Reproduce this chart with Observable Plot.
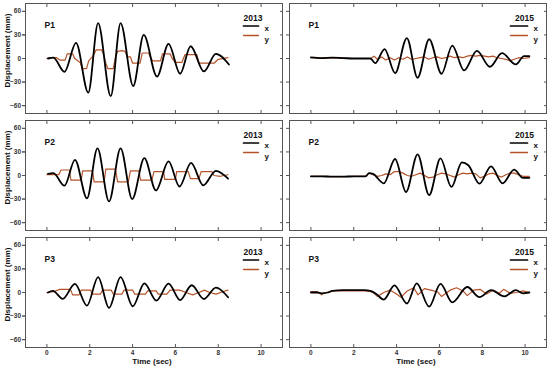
<!DOCTYPE html>
<html><head><meta charset="utf-8">
<script src="https://cdn.jsdelivr.net/npm/d3@7"></script>
<script src="https://cdn.jsdelivr.net/npm/@observablehq/plot@0.6"></script>
<style>
body{margin:0;background:#fff;}
#chart{width:550px;height:372px;}
#chart svg{overflow:visible;}
</style>
</head><body><div id="chart"></div>
<script>
const panels = ["P1", "P2", "P3"];
const years = ["2013", "2015"];
const seriesNames = ["x", "y"];
const yTicks = [-60, -30, 0, 30, 60];
const xTicks = [0, 2, 4, 6, 8, 10];

// P1 2013
const p1_2013_xt = [0.05, 0.3, 0.82, 1.36, 1.93, 2.39, 2.98, 3.44, 4.03, 4.52, 5.14, 5.68, 6.22, 6.71, 7.33, 7.89, 8.5];
const p1_2013_xv = [0, 1, -17, 20, -43.5, 45, -48, 45, -35, 30, -23, 18.6, -19.4, 15.6, -16.5, 6, -7.6];
const p1_2013_yt = [0, 0.2, 0.45, 0.6, 0.85, 0.95, 1.2, 1.3, 1.55, 1.65, 1.85, 1.95, 2.15, 2.3, 2.55, 2.65, 2.75, 2.85, 3.1, 3.2, 3.3, 3.5, 3.65, 3.75, 3.9, 4.0, 4.35, 4.45, 4.75, 4.85, 4.95, 5.3, 5.4, 5.75, 5.85, 6.0, 6.3, 6.45, 7.0, 7.1, 7.8, 8.0, 8.45];
const p1_2013_yv = [0, 1, 1, -2, -2, 6, 6, 0, -5, -13, -13, -3, 3, 11, 11, 5, -6, -13, -13, 2, 9, 10, 9, 2, 2, -6, -6, 7, 7, 0, -3, -3, 6, 6, 0, -5, -5, 5, 5, -6, -6, -1, 1];
// P1 2015
const p1_2015_xt = [0, 0.5, 1.0, 1.5, 2.0, 2.5, 2.78, 3.0, 3.44, 3.93, 4.48, 4.98, 5.52, 6.1, 6.6, 7.15, 7.75, 8.36, 8.92, 9.57, 9.95, 10.2];
const p1_2015_xv = [1.5, 0.5, 1, 0.5, 0, 0, 0, -6, 12, -18.6, 26, -24.5, 24.5, -19.4, 16.5, -15.2, 9.7, -10.5, 6.8, -7.6, 3, 3];
const p1_2015_yt = [0, 0.5, 1.0, 1.5, 2.0, 2.5, 2.78, 2.95, 3.1, 3.3, 3.5, 3.7, 3.9, 4.1, 4.3, 4.5, 4.7, 4.9, 5.1, 5.3, 5.5, 5.7, 5.9, 6.1, 6.3, 6.5, 6.7, 6.9, 7.1, 7.3, 7.5, 7.7, 7.9, 8.1, 8.3, 8.5, 8.7, 8.9, 9.1, 9.3, 9.5, 9.7, 9.9, 10.2];
const p1_2015_yv = [1, 0.5, 1, 0.5, 0, 0, 0, 3, -1, 2, -2, 1, -2, 1, -1, 2, -1, 0, 1, 2, -1, 1, 2, 0, 1, 3, 1, 2, 1, 3, 4, 3, 4, 3, 2, 3, 1, 0, -1, -3, -1, 1, 0, 1];
// P2 2013
const p2_2013_xt = [0.05, 0.3, 0.82, 1.31, 1.87, 2.36, 2.9, 3.44, 3.98, 4.55, 5.09, 5.68, 6.19, 6.73, 7.3, 7.89, 8.46];
const p2_2013_xv = [2, 3, -13, 20, -29, 34.6, -33, 34.6, -30, 22, -19, 18, -14, 16, -12.5, 6, -4];
const p2_2013_yt = [0, 0.55, 0.66, 1.05, 1.12, 1.6, 1.67, 2.13, 2.2, 2.67, 2.75, 3.2, 3.3, 3.8, 3.9, 4.3, 4.37, 4.9, 5.0, 5.45, 5.5, 6.0, 6.06, 6.6, 6.7, 7.1, 7.2, 7.7, 7.8, 8.1, 8.45];
const p2_2013_yv = [1, 1, 7, 7, -6, -6, 6, 6, -8, -8, 8, 8, -8, -8, 6, 6, -6, -6, 5, 5, -5, -5, 5, 5, -4, -4, 5, 5, 0, -1, 1];
// P2 2015
const p2_2015_xt = [0, 0.5, 1.0, 1.5, 2.0, 2.55, 2.72, 2.9, 3.4, 3.93, 4.44, 4.98, 5.52, 6.05, 6.56, 7.05, 7.35, 7.87, 8.41, 8.95, 9.49, 9.9, 10.2];
const p2_2015_xv = [-1, -1, -1.5, -1.5, -1, -1, 3, 2, -10, 21, -21, 27, -25, 21.7, -14.6, 16.7, 13, -10.4, 11.7, -10, 7.5, -3, -3];
const p2_2015_yt = [0, 0.5, 1.0, 1.5, 2.0, 2.55, 2.72, 2.9, 3.1, 3.3, 3.5, 3.7, 3.9, 4.1, 4.3, 4.5, 4.7, 4.9, 5.1, 5.3, 5.5, 5.7, 5.9, 6.1, 6.3, 6.5, 6.7, 6.9, 7.1, 7.3, 7.5, 7.7, 7.9, 8.1, 8.3, 8.5, 8.7, 8.9, 9.1, 9.3, 9.5, 9.7, 9.9, 10.2];
const p2_2015_yv = [-1, -1, -1.5, -1.5, -1, -1, 3, 1, -1, 0, 2, 1, 5, 5, 3, 0, -1, 1, 3, 0, -3, -2, 1, 3, 2, 0, -2, 1, 3, 2, 3, 2, -3, -1, 2, 3, 0, -2, 1, 3, 3, 1, -1, -1];
// P3 2013
const p3_2013_xt = [0.05, 0.28, 0.74, 1.31, 1.87, 2.39, 2.9, 3.44, 4.01, 4.55, 5.11, 5.68, 6.22, 6.76, 7.33, 7.89, 8.46];
const p3_2013_xv = [0, 2, -8, 11, -16.7, 19.6, -19.6, 19.6, -17.5, 11.7, -10.4, 11.2, -9.6, 9.2, -8.3, 6.2, -6];
const p3_2013_yt = [0, 0.3, 0.6, 1.1, 1.2, 1.5, 1.6, 2.05, 2.1, 2.5, 2.6, 3.0, 3.1, 3.5, 3.6, 4.0, 4.1, 4.6, 4.7, 5.1, 5.2, 5.6, 5.75, 6.2, 6.5, 6.8, 7.1, 7.35, 7.6, 7.9, 8.2, 8.45];
const p3_2013_yv = [0, 1, 4, 4, -3, -3, 3, 3, -2, -2, 3, 3, -2, -2, 3, 3, -2, -2, 2, 2, -2, -2, 3, 3, 0, -3, 0, 3, 0, -2, 1, 3];
// P3 2015
const p3_2015_xt = [0, 0.3, 0.5, 0.8, 1.0, 1.5, 2.0, 2.5, 2.78, 3.05, 3.4, 3.9, 4.48, 4.94, 5.52, 6.05, 6.6, 7.3, 7.87, 8.41, 9.03, 9.57, 9.9, 10.2];
const p3_2015_xv = [0, 0, -1, 0, 2, 3, 3, 3, 2, -2, -9, 9, -14, 11.7, -18, 11, -12.5, 7, -6, 3, -5, 3, -1, 0];
const p3_2015_yt = [0, 0.3, 0.5, 0.6, 1.0, 1.5, 2.0, 2.5, 2.8, 2.95, 3.1, 3.4, 3.7, 4.0, 4.2, 4.5, 4.8, 5.0, 5.3, 5.6, 5.9, 6.1, 6.5, 6.8, 7.1, 7.3, 7.6, 7.9, 8.2, 8.5, 8.8, 9.0, 9.3, 9.6, 9.9, 10.2];
const p3_2015_yv = [1, 1, -3, -1, 2, 2, 2, 2, 1, -1, -5, 0, 3, -2, -6, 2, 6, -3, 5, 3, 1, -5, 3, 6, 2, -4, 3, 4, -2, 3, -1, 4, -1, 0, 2, 0];

const traces = [
  {panel: "P1", year: "2013", series: "x", t: p1_2013_xt, v: p1_2013_xv},
  {panel: "P1", year: "2013", series: "y", t: p1_2013_yt, v: p1_2013_yv},
  {panel: "P1", year: "2015", series: "x", t: p1_2015_xt, v: p1_2015_xv},
  {panel: "P1", year: "2015", series: "y", t: p1_2015_yt, v: p1_2015_yv},
  {panel: "P2", year: "2013", series: "x", t: p2_2013_xt, v: p2_2013_xv},
  {panel: "P2", year: "2013", series: "y", t: p2_2013_yt, v: p2_2013_yv},
  {panel: "P2", year: "2015", series: "x", t: p2_2015_xt, v: p2_2015_xv},
  {panel: "P2", year: "2015", series: "y", t: p2_2015_yt, v: p2_2015_yv},
  {panel: "P3", year: "2013", series: "x", t: p3_2013_xt, v: p3_2013_xv},
  {panel: "P3", year: "2013", series: "y", t: p3_2013_yt, v: p3_2013_yv},
  {panel: "P3", year: "2015", series: "x", t: p3_2015_xt, v: p3_2015_xv},
  {panel: "P3", year: "2015", series: "y", t: p3_2015_yt, v: p3_2015_yv}
];
const rows = traces.flatMap(d => d.t.map((t, i) => ({panel: d.panel, year: d.year, series: d.series, key: d.panel + d.year + d.series, t, v: d.v[i]})));
const facetCells = panels.flatMap(p => years.map(y => ({panel: p, year: y})));

const font = "'Liberation Sans', Arial, sans-serif";
const ink = "#111";
const lineShape = {draw(context, l) { context.moveTo(0, 0); context.lineTo(0, -l); }};

// legend offsets per year (relative to the frame's top-right corner)
const legendPos = {
  "2013": {title: -29.5, line: -39, len: 15, label: -18},
  "2015": {title: -22, line: -36, len: 17, label: -13}
};
const legendMarks = years.flatMap(yr => {
  const cells = facetCells.filter(c => c.year === yr);
  const pos = legendPos[yr];
  return [
    Plot.text(cells, {fx: "year", fy: "panel", text: "year", frameAnchor: "top-right", dx: pos.title, dy: 11.5, textAnchor: "middle", fontSize: 8.5, fontWeight: "bold", fill: ink}),
    ...seriesNames.map((s, k) => Plot.vector(cells, {fx: "year", fy: "panel", frameAnchor: "top-right", dx: pos.line, dy: k === 0 ? 22.5 : 32, rotate: 90, length: pos.len, anchor: "start", shape: lineShape, stroke: () => s, strokeWidth: k === 0 ? 1.7 : 1.3})),
    ...seriesNames.map((s, k) => Plot.text(cells, {fx: "year", fy: "panel", frameAnchor: "top-right", dx: pos.label, dy: k === 0 ? 22.3 : 33, text: () => s, textAnchor: "start", fontSize: 8, fontWeight: "bold", fill: ink}))
  ];
});

const chart = Plot.plot({
  width: 550, height: 372,
  marginLeft: 25, marginRight: 4, marginTop: 3, marginBottom: 25,
  style: {fontFamily: font, background: "#fff", color: ink},
  fx: {domain: years, axis: null, paddingInner: 0.027, paddingOuter: 0},
  fy: {domain: panels, axis: null, paddingInner: 0.06, paddingOuter: 0},
  x: {domain: [-1, 11]},
  y: {domain: [-70, 70]},
  color: {domain: seriesNames, range: ["#000000", "#b4532a"]},
  marks: [
    Plot.line(rows.filter(d => d.series === "y"), {x: "t", y: "v", z: "key", fx: "year", fy: "panel", stroke: "series", strokeWidth: 1.2}),
    Plot.line(rows.filter(d => d.series === "x"), {x: "t", y: "v", z: "key", fx: "year", fy: "panel", stroke: "series", strokeWidth: 1.8, curve: "monotone-x"}),
    Plot.frame({stroke: "#555", strokeWidth: 1}),
    // y ticks with labels (left column)
    Plot.axisY({anchor: "left", ticks: yTicks, tickSize: 3, tickPadding: 1.5, fontSize: 6.5, fontWeight: "bold", label: null, stroke: "#555", fill: "#333"}),
    // outward left ticks on every panel
    Plot.axisY({anchor: "left", ticks: yTicks, tickSize: 3, tickFormat: () => "", label: null, facetAnchor: null, stroke: "#555"}),
    // inward right ticks
    Plot.axisY({anchor: "right", ticks: yTicks, tickSize: 3, dx: -3, tickFormat: () => "", label: null, facetAnchor: null, stroke: "#555"}),
    // inward top / bottom ticks
    Plot.axisX({anchor: "top", ticks: xTicks, tickSize: 3, dy: 3, tickFormat: () => "", label: null, facetAnchor: null, stroke: "#555"}),
    Plot.axisX({anchor: "bottom", ticks: xTicks, tickSize: 3, dy: -3, tickFormat: () => "", label: null, facetAnchor: null, stroke: "#555"}),
    // bottom tick labels
    Plot.axisX({anchor: "bottom", ticks: xTicks, tickSize: 0, tickPadding: 3, fontSize: 6.5, fontWeight: "bold", label: null, fill: "#333"}),
    // axis titles
    Plot.text(facetCells.filter(c => c.year === "2013"), {fx: "year", fy: "panel", text: () => "Displacement (mm)", frameAnchor: "left", dx: -18, dy: -8, rotate: -90, textAnchor: "middle", lineAnchor: "middle", fontSize: 8, fontWeight: "bold", fill: ink}),
    Plot.text(facetCells.filter(c => c.panel === "P3"), {fx: "year", fy: "panel", text: () => "Time (sec)", frameAnchor: "bottom", dy: 16, dx: -2, fontSize: 8, fontWeight: "bold", fill: ink}),
    // panel names
    Plot.text(facetCells, {fx: "year", fy: "panel", text: "panel", frameAnchor: "top-left", dx: 19, dy: 18, textAnchor: "start", fontSize: 8.5, fontWeight: "bold", fill: ink}),
    ...legendMarks
  ]
});
document.getElementById("chart").append(chart);
</script>
</body></html>
